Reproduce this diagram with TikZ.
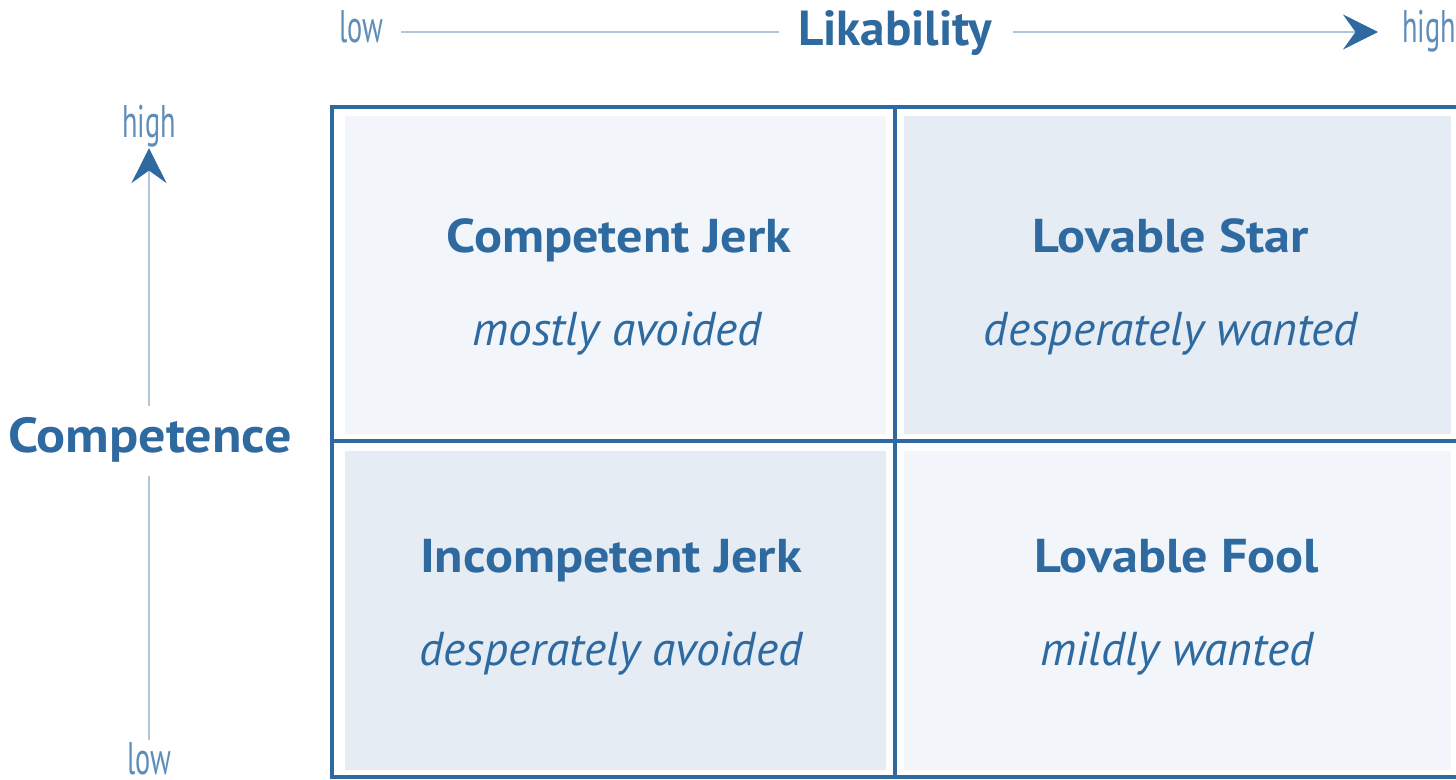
\documentclass[tikz,border=0pt]{standalone}
\usepackage{fontspec}
\setmainfont{PT Sans}
\newfontfamily\narrowfont{PT Sans}[FakeStretch=0.62]
\newfontfamily\widefont{PT Sans}[FakeStretch=1.1]
\usetikzlibrary{arrows.meta}
\definecolor{gridblue}{HTML}{2E6AA0}
\definecolor{axisgray}{HTML}{B0C6DB}
\definecolor{endblue}{HTML}{5E8DBA}
\definecolor{cellpale}{HTML}{F2F5F9}
\definecolor{celldark}{HTML}{E5ECF4}

\begin{document}
\begin{tikzpicture}[x=0.02cm,y=-0.02cm,
  every node/.style={inner sep=0pt,anchor=base},
  quadname/.style={text=gridblue,font=\widefont\fontsize{27}{30}\selectfont\bfseries},
  quadnote/.style={text=gridblue,font=\fontsize{27}{30}\selectfont\itshape},
  axisname/.style={text=gridblue,font=\fontsize{28}{30}\selectfont\bfseries},
  endname/.style={text=endblue,font=\narrowfont\fontsize{26}{28}\selectfont},
  axisline/.style={draw=axisgray,line width=1.1pt},
  axisarrow/.style={axisline,-{Stealth[color=gridblue,length=0.7cm,width=0.7cm,inset=0.25cm]}},
  gridline/.style={draw=gridblue,line width=0.08cm}]
\useasboundingbox (0,0) rectangle (1456,779);
% quadrant backgrounds
\fill [cellpale] (345,116) rectangle (886,434);
\fill [celldark] (904,116) rectangle (1451,434);
\fill [celldark] (345,451) rectangle (886,770);
\fill [cellpale] (904,451) rectangle (1451,770);
\draw [gridline] (332,107) rectangle (1460,777);
\draw [gridline] (895,107) -- (895,777);
\draw [gridline] (332,441) -- (1460,441);
% horizontal axis
\coordinate (hline) at (0,32);
\node [endname] (lowx) at (361,42) {low};
\node [axisname] (likab) at (895,45) {Likability};
\node [endname,anchor=base west] (highx) at (1402,42) {high};
\draw [axisline] ([xshift=18*0.02cm]lowx.east |- hline) -- ([xshift=-19*0.02cm]likab.west |- hline);
\draw [axisarrow] ([xshift=21*0.02cm]likab.east |- hline) -- ([xshift=-24*0.02cm]highx.west |- hline);
% vertical axis
\coordinate (vline) at (149,0);
\node [endname] (highy) at (149,137) {high};
\node [axisname,font=\widefont\fontsize{28}{30}\selectfont\bfseries] (compet) at (150,452) {Competence};
\node [endname] (lowy) at (149,774) {low};
\draw [axisarrow] ([yshift=11*0.02cm]compet.north -| vline) -- ([yshift=-1*0.02cm]highy.south -| vline);
\draw [axisline] ([yshift=-14*0.02cm]compet.south -| vline) -- ([yshift=2*0.02cm]lowy.north -| vline);
% quadrants
\node [quadname] (cjerk) at (619,252) {Competent Jerk};
\node [quadnote] (cjerknote) at (617,345) {mostly avoided};
\node [quadname] (lstar) at (1171,252) {Lovable Star};
\node [quadnote] (lstarnote) at (1171,345) {desperately wanted};
\node [quadname] (ijerk) at (611,572) {Incompetent Jerk};
\node [quadnote] (ijerknote) at (611,665) {desperately avoided};
\node [quadname] (lfool) at (1177,572) {Lovable Fool};
\node [quadnote] (lfoolnote) at (1177,665) {mildly wanted};
\end{tikzpicture}
\end{document}
